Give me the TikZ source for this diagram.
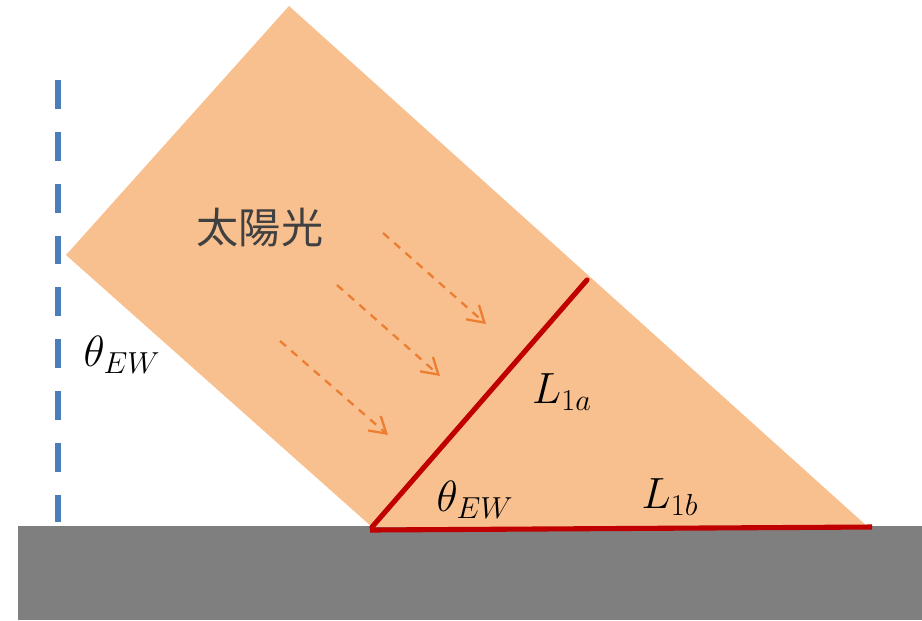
\documentclass[tikz,border=0pt]{standalone}
\usepackage{fontspec}
\newfontfamily\cjk{Noto Sans CJK JP}
\usetikzlibrary{arrows.meta}
\definecolor{sunfill}{HTML}{F8C08F}
\definecolor{sunray}{HTML}{ED7D31}
\definecolor{panelred}{HTML}{C00000}
\definecolor{axisblue}{HTML}{4A7EBB}
\definecolor{groundgray}{HTML}{7F7F7F}
\definecolor{textgray}{HTML}{404040}

\begin{document}
\begin{tikzpicture}[x=0.02cm,y=-0.02cm,>={Straight Barb[length=9pt,width=11pt]},line join=miter,
  ray/.style={sunray,line width=1.3pt,dash pattern=on 4.5pt off 4pt,->},
  panel/.style={panelred,line width=2.9pt},
  lbl/.style={font=\fontsize{23}{27}\selectfont,inner sep=0pt}]
  \useasboundingbox (0,0) rectangle (922,620);
  \fill[groundgray] (18,526) rectangle (922,620);

  \coordinate (top) at (289,6);
  \coordinate (left) at (66,255);
  \coordinate (foot) at (372,527);
  \coordinate (tip) at (868,527);
  \coordinate (edge) at (587,280);
  \fill[sunfill] (top) -- (left) -- (foot) -- (tip) -- cycle;

  \draw[axisblue,line width=3.4pt,dash pattern=on 16.5pt off 13pt] (58,80) -- (58,522);

  \coordinate (r1s) at (383,233); \coordinate (r1e) at (486,324);
  \coordinate (r2s) at (337,285); \coordinate (r2e) at (440,376);
  \coordinate (r3s) at (280,341); \coordinate (r3e) at (388,435);
  \draw[ray] (r1s) -- (r1e);
  \draw[ray] (r2s) -- (r2e);
  \draw[ray] (r3s) -- (r3e);

  \draw[panel,line cap=round] (foot) -- (edge);
  \draw[panel] (370,530) -- (872,527);

  \node[textgray,font=\cjk\fontsize{24}{28}\selectfont,inner sep=0pt] (sun) at (260,228) {太陽光};
  \node[lbl] (angleup) at (122,355) {$\theta_{EW}$};
  \node[lbl] (lena) at (562,392) {$L_{1a}$};
  \node[lbl] (anglelow) at (475,500) {$\theta_{EW}$};
  \node[lbl] (lenb) at (670,497) {$L_{1b}$};
\end{tikzpicture}
\end{document}
